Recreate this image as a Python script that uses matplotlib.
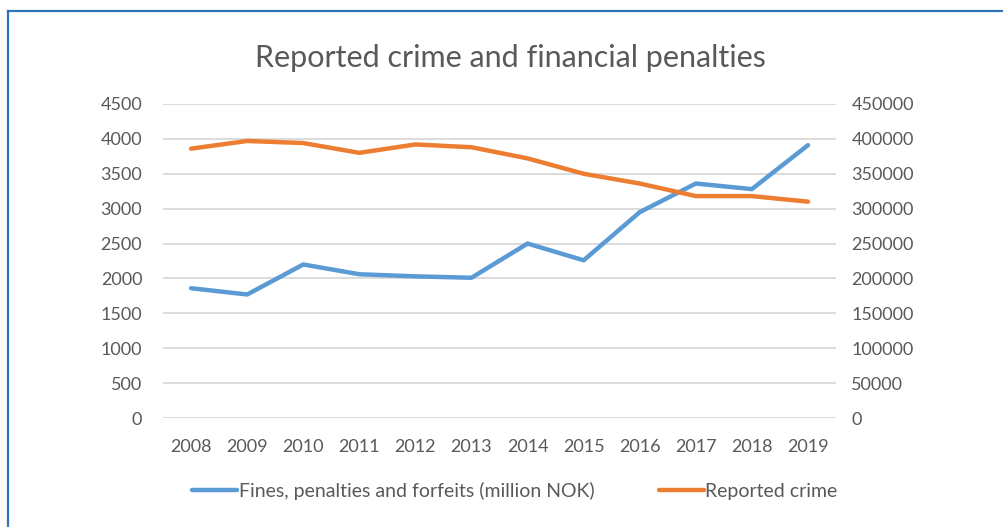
import matplotlib.pyplot as plt
from matplotlib.lines import Line2D

# Dane
lata = ["2008", "2009", "2010", "2011", "2012", "2013",
        "2014", "2015", "2016", "2017", "2018", "2019"]
kary = [1860, 1770, 2200, 2060, 2030, 2010, 2500, 2260, 2950, 3360, 3280, 3910]
przestepstwa = [386000, 397000, 394000, 380000, 392000, 388000,
                372000, 350000, 336000, 318000, 318000, 310000]
lewe_ticki = list(range(0, 4501, 500))
prawe_ticki = list(range(0, 450001, 50000))

plt.rcParams['font.family'] = ['Lato', 'DejaVu Sans']
szary = "#595959"

fig = plt.figure(figsize=(10.04, 5.27), dpi=100)
ax = fig.add_axes([0.1624, 0.2068, 0.6703, 0.5959])
ax2 = ax.twinx()

x = range(len(lata))
l1, = ax.plot(x, kary, color="#5B9BD5", lw=3.2, solid_capstyle="round",
              label="Fines, penalties and forfeits (million NOK)")
l2, = ax2.plot(x, przestepstwa, color="#ED7D31", lw=3.2, solid_capstyle="round",
               label="Reported crime")

ax.set_xlim(-0.5, len(lata) - 0.5)
ax.set_ylim(0, 4500)
ax2.set_ylim(0, 450000)
ax.set_yticks(lewe_ticki)
ax2.set_yticks(prawe_ticki)
ax.set_xticks(list(x))
ax.set_xticklabels(lata)

ax.grid(axis="y", color="#d9d9d9", lw=1.3)
ax.set_axisbelow(True)
for a in (ax, ax2):
    for s in a.spines.values():
        s.set_visible(False)
    a.tick_params(length=0, labelsize=13, colors=szary)
ax.tick_params(axis="y", pad=15)
ax.tick_params(axis="x", pad=15)
ax2.tick_params(axis="y", pad=11)

fig.text(0.508, 0.890, "Reported crime and financial penalties",
         ha="center", va="center", fontsize=22, color=szary)

fig.legend(handles=[l1, l2], loc="center", bbox_to_anchor=(0.513, 0.068),
           ncol=2, frameon=False, fontsize=14, handlelength=2.3,
           handletextpad=0.1, columnspacing=3.3, labelcolor=szary)

# Ramka (tylko lewa i górna krawędź widoczna)
ramka = "#2E75B6"
fig.add_artist(Line2D([8 / 1004, 8 / 1004], [0, 1 - 11 / 527],
                      color=ramka, lw=1.6, transform=fig.transFigure))
fig.add_artist(Line2D([8 / 1004, 1], [1 - 11 / 527, 1 - 11 / 527],
                      color=ramka, lw=1.6, transform=fig.transFigure))

fig.savefig("out.png", dpi=100)
plt.close(fig)
